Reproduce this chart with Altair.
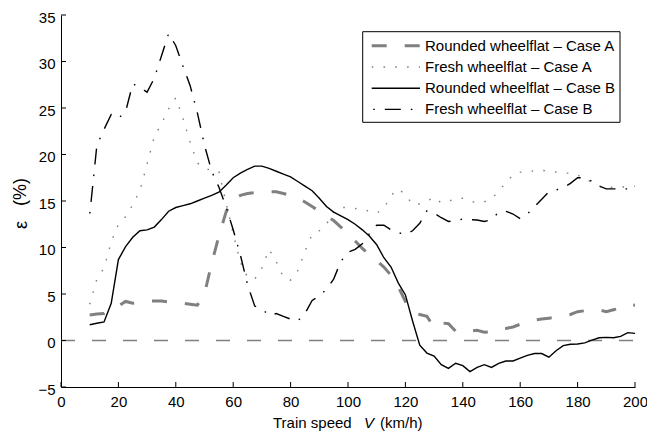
import altair as alt
import pandas as pd

# ---------------- data ----------------
speed = [10, 12.5, 15, 17.5, 20, 22.5, 25, 27.5, 30, 32.5,
         35, 37.5, 40, 42.5, 45, 47.5, 50, 52.5, 55, 57.5,
         60, 62.5, 65, 67.5, 70, 72.5, 75, 77.5, 80, 82.5,
         85, 87.5, 90, 92.5, 95, 97.5, 100, 102.5, 105, 107.5,
         110, 112.5, 115, 117.5, 120, 122.5, 125, 127.5, 130, 132.5,
         135, 137.5, 140, 142.5, 145, 147.5, 150, 152.5, 155, 157.5,
         160, 162.5, 165, 167.5, 170, 172.5, 175, 177.5, 180, 182.5,
         185, 187.5, 190, 192.5, 195, 197.5, 200]

rounded_A = [2.75, 2.85, 2.9, 3.3, 3.7, 4.2, 4.0, 4.1, 4.25, 4.25,
             4.25, 4.15, 4.1, 4.0, 3.9, 3.8, 5.0, 8.3, 11.2, 13.8,
             15.2, 15.6, 15.8, 15.9, 15.95, 16.0, 16.0, 15.8, 15.6, 15.3,
             14.9, 14.4, 13.9, 13.4, 12.9, 12.2, 11.4, 10.7, 9.9, 9.2,
             8.6, 7.9, 7.0, 5.8, 4.2, 3.0, 2.8, 2.6, 1.4, 1.9,
             1.8, 1.0, 0.85, 1.0, 1.1, 0.9, 0.95, 1.3, 1.3, 1.45,
             1.75, 2.0, 2.2, 2.3, 2.4, 2.5, 2.65, 2.8, 3.1, 3.2,
             3.35, 3.3, 3.1, 3.3, 3.5, 3.85, 3.8]

fresh_A = [3.9, 6.6, 7.8, 10.6, 12.5, 13.3, 14.6, 16.1, 19.0, 21.9,
           23.3, 24.9, 26.1, 23.9, 21.3, 19.1, 18.5, 18.3, 18.2, 14.8,
           11.5, 8.4, 6.8, 6.6, 7.8, 9.8, 8.5, 6.8, 6.5, 7.5,
           9.6, 11.4, 11.8, 12.5, 13.8, 14.3, 14.3, 14.2, 14.1, 13.9,
           13.7, 14.2, 15.6, 16.3, 15.7, 14.6, 14.7, 15.0, 15.4, 14.8,
           15.0, 15.2, 15.3, 15.0, 14.8, 14.9, 15.3, 16.0, 17.0, 17.8,
           18.1, 18.15, 18.25, 18.3, 18.2, 18.1, 18.0, 18.0, 17.8, 17.4,
           17.0, 16.6, 16.4, 16.5, 16.5, 16.5, 16.6]

rounded_B = [1.7, 1.85, 2.0, 4.0, 8.7, 10.1, 11.1, 11.8, 11.9, 12.2,
             13.0, 13.9, 14.3, 14.5, 14.7, 15.0, 15.3, 15.6, 15.95, 16.7,
             17.5, 18.0, 18.4, 18.75, 18.75, 18.5, 18.2, 17.9, 17.6, 17.1,
             16.6, 16.1, 15.3, 14.4, 13.8, 13.4, 13.0, 12.5, 11.9, 11.2,
             10.3, 8.9, 7.9, 6.2, 4.9, 2.1, -0.5, -1.35, -1.67, -2.6,
             -3.0, -2.45, -2.7, -3.35, -2.9, -2.6, -2.9, -2.45, -2.2, -2.2,
             -1.9, -1.6, -1.4, -1.4, -1.8, -1.1, -0.55, -0.4, -0.38, -0.25,
             0.05, 0.3, 0.34, 0.3, 0.45, 0.85, 0.77]

fresh_B = [13.5, 21.0, 22.7, 24.3, 23.9, 24.6, 27.6, 27.2, 26.7, 28.2,
           30.6, 33.0, 31.7, 29.5, 27.4, 24.5, 21.0, 18.2, 16.5, 14.4,
           11.9, 9.2, 6.0, 3.7, 3.4, 2.7, 2.9, 2.6, 2.3, 2.1,
           2.9, 4.3, 4.8, 5.5, 6.6, 8.5, 9.5, 9.8, 10.4, 11.5,
           12.4, 12.4, 11.9, 11.6, 11.4, 11.8, 12.6, 13.95, 13.7, 13.2,
           12.8, 12.9, 13.05, 13.0, 12.95, 12.8, 13.0, 13.8, 13.9, 13.6,
           13.1, 13.6, 14.4, 15.2, 16.0, 16.2, 16.4, 16.9, 17.5, 17.5,
           17.1, 16.6, 16.3, 16.3, 16.3, 16.3, 16.3]

series_names = ["Rounded wheelflat \u2013 Case A",
                "Fresh wheelflat \u2013 Case A",
                "Rounded wheelflat \u2013 Case B",
                "Fresh wheelflat \u2013 Case B"]

x_ticks = [0, 20, 40, 60, 80, 100, 120, 140, 160, 180, 200]
y_ticks = [-5, 0, 5, 10, 15, 20, 25, 30, 35]
zero_speed = [0, 200]
zero_eps = [0, 0]

# ---------------- styling ----------------
FONT = "Liberation Sans"
GRAY = "#808080"
W, H = 574, 372

styles = [
    dict(color=GRAY, strokeWidth=3.0, strokeDash=[15, 18], strokeDashOffset=0),
    dict(color=GRAY, strokeWidth=1.4, strokeDash=[1.6, 10.2], strokeDashOffset=0),
    dict(color="#000000", strokeWidth=1.4),
    dict(color="#000000", strokeWidth=1.4, strokeDash=[16, 10, 1.6, 10], strokeDashOffset=24.5),
]
values = [rounded_A, fresh_A, rounded_B, fresh_B]

xs = alt.Scale(domain=[0, 200], nice=False, zero=False)
ys = alt.Scale(domain=[-5, 35], nice=False, zero=False)
x_axis = alt.Axis(values=x_ticks, title=None, ticks=False, labelFlush=False,
                  labelPadding=7, labelOverlap=False, grid=False)
y_axis = alt.Axis(values=y_ticks, title=None, ticks=False, labelPadding=6,
                  labelOverlap=False, grid=False, labelOffset=2)

X = alt.X("speed:Q", scale=xs, axis=x_axis)
Y = alt.Y("eps:Q", scale=ys, axis=y_axis)

dummy = pd.DataFrame({"k": [0]})

# zero reference line
zero_df = pd.DataFrame({"speed": zero_speed, "eps": zero_eps})
layers = [alt.Chart(zero_df).mark_line(
    color=GRAY, strokeWidth=1.7, strokeDash=[14, 17]
).encode(x=X, y=Y)]

for name, vals, st in zip(series_names, values, styles):
    d = pd.DataFrame({"speed": speed, "eps": vals})
    layers.append(alt.Chart(d).mark_line(**st).encode(x=X, y=Y))

# inward ticks
xt = pd.DataFrame({"speed": x_ticks})
yt = pd.DataFrame({"eps": y_ticks})
layers.append(alt.Chart(xt).mark_rule(color="black", strokeWidth=1).encode(
    x=X, y=alt.value(H), y2=alt.value(H - 5)))
layers.append(alt.Chart(yt).mark_rule(color="black", strokeWidth=1).encode(
    y=Y, x=alt.value(0), x2=alt.value(5)))

# legend (manual box)
LX0, LX1, LY0, LY1 = 301.7, 559, 16.7, 107.3
layers.append(alt.Chart(dummy).mark_rect(fill="white", stroke="black", strokeWidth=1).encode(
    x=alt.value(LX0), x2=alt.value(LX1), y=alt.value(LY0), y2=alt.value(LY1)))
for i, (name, st) in enumerate(zip(series_names, styles)):
    ry = 30.8 + 21.2 * i
    layers.append(alt.Chart(dummy).mark_rule(**st).encode(
        x=alt.value(310.7), x2=alt.value(359), y=alt.value(ry)))
    layers.append(alt.Chart(dummy).mark_text(
        text=name, align="left", baseline="middle", font=FONT, fontSize=15, color="black"
    ).encode(x=alt.value(364), y=alt.value(ry)))

# axis titles
layers.append(alt.Chart(dummy).mark_text(
    text="Train speed", align="left", baseline="alphabetic", font=FONT, fontSize=15, color="black"
).encode(x=alt.value(212), y=alt.value(H + 41)))
layers.append(alt.Chart(dummy).mark_text(
    text="V", align="left", baseline="alphabetic", font=FONT, fontSize=15, fontStyle="italic", color="black"
).encode(x=alt.value(303), y=alt.value(H + 41)))
layers.append(alt.Chart(dummy).mark_text(
    text="(km/h)", align="left", baseline="alphabetic", font=FONT, fontSize=15, color="black"
).encode(x=alt.value(319), y=alt.value(H + 41)))
layers.append(alt.Chart(dummy).mark_text(
    text="(%)", align="center", baseline="middle", font=FONT, fontSize=18, color="black", angle=270
).encode(x=alt.value(-40), y=alt.value(177)))
layers.append(alt.Chart(dummy).mark_text(
    text="\u03b5", align="center", baseline="middle", font=FONT, fontSize=18, color="black", angle=270
).encode(x=alt.value(-39), y=alt.value(210)))

chart = alt.layer(*layers).properties(
    width=W, height=H,
    autosize=alt.AutoSizeParams(type="none"),
    padding={"left": 61, "top": 15, "right": 12, "bottom": 49},
).configure_view(stroke=None).configure_axis(
    domainColor="black", domainWidth=1, labelFont=FONT, labelFontSize=15,
    labelColor="black", grid=False,
)

chart.save("out.html", embed_options={"renderer": "svg", "actions": False})
